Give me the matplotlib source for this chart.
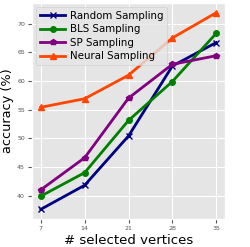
import matplotlib
matplotlib.use('Agg')
import matplotlib.pyplot as plt

plt.style.use('ggplot')

vertices = [7, 14, 21, 28, 35]
random_acc = [37.6, 41.8, 50.4, 62.6, 66.7]
bls_acc = [39.9, 44.0, 53.1, 59.9, 68.3]
sp_acc = [41.0, 46.6, 57.0, 62.9, 64.4]
neural_acc = [55.4, 56.9, 61.0, 67.5, 71.9]


def main():
    fig = plt.figure(figsize=(2.5, 2.47), dpi=100)
    ax = fig.add_axes([0.128, 0.113, 0.772, 0.875])

    ax.plot(vertices, random_acc, color='navy', marker='x', lw=2,
            ms=4, label='Random Sampling')
    ax.plot(vertices, bls_acc, color='green', marker='o', lw=2,
            ms=4, label='BLS Sampling')
    ax.plot(vertices, sp_acc, color='purple', marker='p', lw=2,
            ms=4, label='SP Sampling')
    ax.plot(vertices, neural_acc, color='orangered', marker='^', lw=2,
            ms=4, label='Neural Sampling')

    ax.set_xticks(vertices)
    ax.set_yticks([40, 45, 50, 55, 60, 65, 70])
    ax.set_ylim(35.9, 73.6)
    ax.tick_params(labelsize=4.5, colors='#555555', length=3, pad=2)
    ax.set_xlabel('# selected vertices', fontsize=9.5, color='black',
                  labelpad=2)
    ax.set_ylabel('accuracy (%)', fontsize=9.3, color='black', labelpad=2)
    ax.legend(loc='upper left', fontsize=7.4, handlelength=2.5,
              handletextpad=0.4, borderaxespad=0.4, borderpad=0.35,
              labelspacing=0.35)

    plt.savefig('out.png', dpi=100)
    plt.close()


if __name__ == "__main__":
    main()
